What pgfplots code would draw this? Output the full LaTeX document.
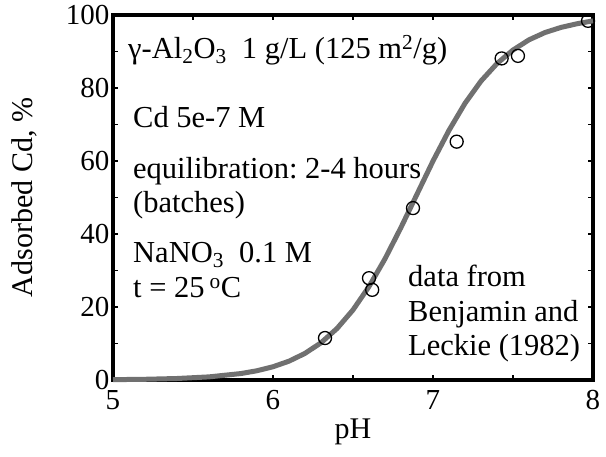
\documentclass[border=0pt]{standalone}
\usepackage{fontspec}
\setmainfont{Liberation Serif}
\usepackage{pgfplots}
\pgfplotsset{compat=1.18}
\definecolor{curvegray}{RGB}{112,112,112}
\newcommand\bigfont{\fontsize{29}{34}\selectfont}
\newcommand\notefont{\fontsize{30.5}{36}\selectfont\frenchspacing}

\begin{document}
\begin{tikzpicture}[note/.style={anchor=base west, inner sep=0pt, font=\notefont}]
% fixed page frame around the axis box
\path[use as bounding box] (-113pt,-76pt) rectangle (493pt,380pt);
\begin{axis}[
  scale only axis, width=480pt, height=365pt,
  at={(0,0)}, anchor=south west,
  xmin=5, xmax=8, ymin=0, ymax=100,
  xtick={5,6,7,8}, ytick={0,20,...,100},
  minor xtick={5.5,6.5,7.5}, minor ytick={10,30,...,90},
  tick align=inside,
  major tick length=5pt, minor tick length=5pt,
  every tick/.style={black, line width=1.5pt},
  axis line style={line width=4pt},
  tick label style={font=\bigfont},
  /pgf/number format/assume math mode=true,
  xticklabel style={yshift=-7pt},
  xlabel={pH}, ylabel={Adsorbed Cd, \%},
  every axis x label/.style={at={(axis description cs:0.5,-0.1589)}, anchor=base, font=\fontsize{30}{34}\selectfont},
  every axis y label/.style={at={(axis description cs:-0.1667,0.5)}, rotate=90, anchor=base, font=\fontsize{30}{34}\selectfont},
  clip=false,
]
% fitted adsorption edge
\addplot[curvegray, line width=5pt, line join=round] coordinates {
  (5.0,0.094) (5.2,0.197) (5.4,0.41) (5.6,0.855) (5.8,1.77) (5.9,2.54)
  (6.0,3.63) (6.1,5.16) (6.2,7.29) (6.3,10.2) (6.4,14.1) (6.5,19.2)
  (6.6,25.6) (6.7,33.2) (6.8,41.8) (6.9,50.9) (7.0,60.0) (7.1,68.4)
  (7.2,75.8) (7.3,81.9) (7.4,86.7) (7.5,90.4) (7.6,93.2) (7.7,95.2)
  (7.8,96.6) (7.9,97.6) (8.0,98.4)
};
% measured data (Benjamin and Leckie, 1982)
\addplot[only marks, mark=o, mark size=6.5pt, mark options={black, line width=1.3pt}] coordinates {
  (6.325,11.5) (6.60,27.9) (6.62,24.7) (6.875,47.1) (7.148,65.3)
  (7.429,88.1) (7.531,88.8) (7.969,98.4)
};
\node[note] at (axis cs:5.094,88.2)
  {γ-Al\textsubscript{2}O\textsubscript{3}\ \ 1 g/L (125 m\textsuperscript{2}/g)};
\node[note] at (axis cs:5.125,69.3) {Cd 5e-7 M};
\node[note] at (axis cs:5.125,55.3) {equilibration: 2-4 hours};
\node[note] at (axis cs:5.125,46.0) {(batches)};
\node[note] at (axis cs:5.125,32.3) {NaNO\textsubscript{3}\ \ 0.1 M};
\node[note] at (axis cs:5.125,22.7) {t = 25\,\textsuperscript{o}C};
\node[note] at (axis cs:6.844,25.5) {data from};
\node[note] at (axis cs:6.844,15.9) {Benjamin and};
\node[note] at (axis cs:6.844,6.8) {Leckie (1982)};
\end{axis}
\end{tikzpicture}
\end{document}
